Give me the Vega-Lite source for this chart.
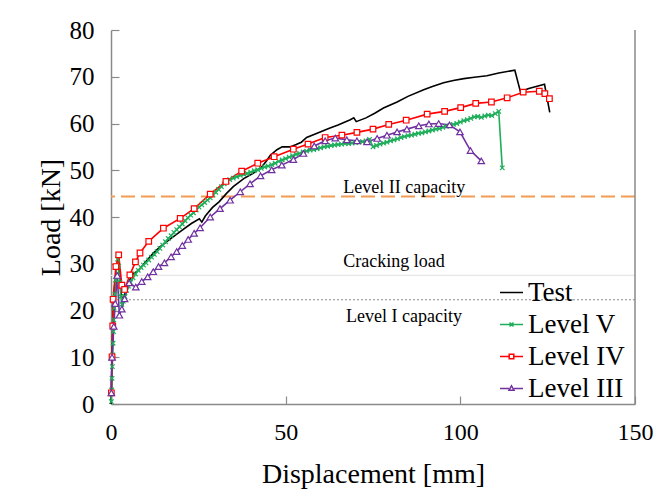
{
  "$schema": "https://vega.github.io/schema/vega-lite/v6.json",
  "width": 524,
  "height": 374,
  "autosize": "none",
  "padding": {"left": 111, "top": 30, "right": 23, "bottom": 89},
  "background": "white",
  "config": {
    "view": {"stroke": null},
    "font": "Liberation Serif",
    "scale": {"continuousPadding": 0},
    "axis": {
      "grid": false,
      "labelFlush": false,
      "labelOverlap": false,
      "domainColor": "#8a8a8a",
      "domainWidth": 1.5,
      "tickColor": "#8a8a8a",
      "tickWidth": 1.2,
      "tickSize": -8,
      "labelFont": "Liberation Serif",
      "labelColor": "black",
      "titleFont": "Liberation Serif",
      "titleColor": "black",
      "titleFontWeight": "normal"
    }
  },
  "datasets": {
    "curves": [
      {"s": "Test", "x": 0, "y": 0},
      {"s": "Test", "x": 0.3, "y": 10},
      {"s": "Test", "x": 0.6, "y": 20},
      {"s": "Test", "x": 1.0, "y": 25},
      {"s": "Test", "x": 1.5, "y": 28.5},
      {"s": "Test", "x": 2.0, "y": 30.5},
      {"s": "Test", "x": 2.5, "y": 27},
      {"s": "Test", "x": 3.0, "y": 23},
      {"s": "Test", "x": 3.6, "y": 22.5},
      {"s": "Test", "x": 4.5, "y": 25},
      {"s": "Test", "x": 6, "y": 27.6},
      {"s": "Test", "x": 8, "y": 28.7},
      {"s": "Test", "x": 10, "y": 30.5},
      {"s": "Test", "x": 12, "y": 32.2},
      {"s": "Test", "x": 14, "y": 33.6},
      {"s": "Test", "x": 17, "y": 35.3},
      {"s": "Test", "x": 20, "y": 37},
      {"s": "Test", "x": 23, "y": 38.6},
      {"s": "Test", "x": 25.3, "y": 39.6},
      {"s": "Test", "x": 26, "y": 38.9},
      {"s": "Test", "x": 27, "y": 40.2},
      {"s": "Test", "x": 29, "y": 42},
      {"s": "Test", "x": 31, "y": 43.3},
      {"s": "Test", "x": 33, "y": 45},
      {"s": "Test", "x": 35, "y": 46.5},
      {"s": "Test", "x": 38, "y": 48.2},
      {"s": "Test", "x": 40.8, "y": 49.4},
      {"s": "Test", "x": 43, "y": 50.6},
      {"s": "Test", "x": 44.5, "y": 52},
      {"s": "Test", "x": 45.6, "y": 53.2},
      {"s": "Test", "x": 47.5, "y": 54.4},
      {"s": "Test", "x": 49, "y": 55},
      {"s": "Test", "x": 51.3, "y": 55},
      {"s": "Test", "x": 53, "y": 55.5},
      {"s": "Test", "x": 54.5, "y": 56},
      {"s": "Test", "x": 56, "y": 57},
      {"s": "Test", "x": 59, "y": 57.9},
      {"s": "Test", "x": 62.5, "y": 59},
      {"s": "Test", "x": 65, "y": 59.7},
      {"s": "Test", "x": 68.5, "y": 60.8},
      {"s": "Test", "x": 69.5, "y": 61.2},
      {"s": "Test", "x": 70.2, "y": 60.4},
      {"s": "Test", "x": 73, "y": 61.2},
      {"s": "Test", "x": 75.5, "y": 62.2},
      {"s": "Test", "x": 78, "y": 63.3},
      {"s": "Test", "x": 81.9, "y": 64.6},
      {"s": "Test", "x": 85, "y": 65.8},
      {"s": "Test", "x": 89.5, "y": 67.2},
      {"s": "Test", "x": 92, "y": 67.9},
      {"s": "Test", "x": 95.2, "y": 68.7},
      {"s": "Test", "x": 98, "y": 69.2},
      {"s": "Test", "x": 101, "y": 69.6},
      {"s": "Test", "x": 104, "y": 69.9},
      {"s": "Test", "x": 107.6, "y": 70.2},
      {"s": "Test", "x": 111, "y": 70.8},
      {"s": "Test", "x": 115.6, "y": 71.4},
      {"s": "Test", "x": 117.2, "y": 66.8},
      {"s": "Test", "x": 119.6, "y": 67.5},
      {"s": "Test", "x": 124.1, "y": 68.4},
      {"s": "Test", "x": 125.6, "y": 62.4},

      {"s": "Level V", "x": 0.1, "y": 0.5},
      {"s": "Level V", "x": 0.2, "y": 3},
      {"s": "Level V", "x": 0.3, "y": 5.5},
      {"s": "Level V", "x": 0.4, "y": 8},
      {"s": "Level V", "x": 0.5, "y": 10.5},
      {"s": "Level V", "x": 0.6, "y": 13},
      {"s": "Level V", "x": 0.7, "y": 15.5},
      {"s": "Level V", "x": 0.8, "y": 18},
      {"s": "Level V", "x": 0.9, "y": 20.5},
      {"s": "Level V", "x": 1.1, "y": 23.5},
      {"s": "Level V", "x": 1.3, "y": 26.5},
      {"s": "Level V", "x": 1.6, "y": 29.5},
      {"s": "Level V", "x": 1.9, "y": 31},
      {"s": "Level V", "x": 2.2, "y": 29.5},
      {"s": "Level V", "x": 2.5, "y": 26},
      {"s": "Level V", "x": 2.8, "y": 23},
      {"s": "Level V", "x": 3.1, "y": 21.3},
      {"s": "Level V", "x": 3.5, "y": 22},
      {"s": "Level V", "x": 4.0, "y": 23},
      {"s": "Level V", "x": 4.5, "y": 24.3},
      {"s": "Level V", "x": 5.0, "y": 25.2},
      {"s": "Level V", "x": 5.6, "y": 26},
      {"s": "Level V", "x": 6.3, "y": 27},
      {"s": "Level V", "x": 7.0, "y": 27.8},
      {"s": "Level V", "x": 7.8, "y": 28.6},
      {"s": "Level V", "x": 8.6, "y": 29.2},
      {"s": "Level V", "x": 9.3, "y": 29.7},
      {"s": "Level V", "x": 10.0, "y": 30.2},
      {"s": "Level V", "x": 10.8, "y": 30.8},
      {"s": "Level V", "x": 11.6, "y": 31.4},
      {"s": "Level V", "x": 12.4, "y": 32},
      {"s": "Level V", "x": 13.2, "y": 32.6},
      {"s": "Level V", "x": 14, "y": 33.3},
      {"s": "Level V", "x": 14.8, "y": 34},
      {"s": "Level V", "x": 15.6, "y": 34.7},
      {"s": "Level V", "x": 16.4, "y": 35.4},
      {"s": "Level V", "x": 17.2, "y": 36},
      {"s": "Level V", "x": 18, "y": 36.7},
      {"s": "Level V", "x": 18.8, "y": 37.3},
      {"s": "Level V", "x": 19.6, "y": 37.9},
      {"s": "Level V", "x": 20.4, "y": 38.5},
      {"s": "Level V", "x": 21.2, "y": 39.2},
      {"s": "Level V", "x": 22, "y": 39.8},
      {"s": "Level V", "x": 22.8, "y": 40.4},
      {"s": "Level V", "x": 23.6, "y": 40.9},
      {"s": "Level V", "x": 24.4, "y": 41.5},
      {"s": "Level V", "x": 25.2, "y": 42.1},
      {"s": "Level V", "x": 26, "y": 42.6},
      {"s": "Level V", "x": 26.8, "y": 43.1},
      {"s": "Level V", "x": 27.6, "y": 43.6},
      {"s": "Level V", "x": 28.4, "y": 44.1},
      {"s": "Level V", "x": 29.2, "y": 44.7},
      {"s": "Level V", "x": 30, "y": 45.3},
      {"s": "Level V", "x": 30.8, "y": 45.9},
      {"s": "Level V", "x": 31.6, "y": 46.5},
      {"s": "Level V", "x": 32.4, "y": 47.1},
      {"s": "Level V", "x": 33.2, "y": 47.6},
      {"s": "Level V", "x": 34, "y": 48},
      {"s": "Level V", "x": 35, "y": 48.3},
      {"s": "Level V", "x": 36, "y": 48.6},
      {"s": "Level V", "x": 37, "y": 48.9},
      {"s": "Level V", "x": 38, "y": 49.1},
      {"s": "Level V", "x": 39, "y": 49.3},
      {"s": "Level V", "x": 40, "y": 49.6},
      {"s": "Level V", "x": 41, "y": 49.9},
      {"s": "Level V", "x": 42, "y": 50.1},
      {"s": "Level V", "x": 43, "y": 50.4},
      {"s": "Level V", "x": 44, "y": 50.7},
      {"s": "Level V", "x": 45, "y": 50.9},
      {"s": "Level V", "x": 46, "y": 51.2},
      {"s": "Level V", "x": 47, "y": 51.5},
      {"s": "Level V", "x": 48, "y": 51.9},
      {"s": "Level V", "x": 49, "y": 52.2},
      {"s": "Level V", "x": 50, "y": 52.5},
      {"s": "Level V", "x": 51, "y": 52.8},
      {"s": "Level V", "x": 52, "y": 53.1},
      {"s": "Level V", "x": 53, "y": 53.4},
      {"s": "Level V", "x": 54, "y": 53.6},
      {"s": "Level V", "x": 55, "y": 53.9},
      {"s": "Level V", "x": 56, "y": 54.1},
      {"s": "Level V", "x": 57, "y": 54.3},
      {"s": "Level V", "x": 58, "y": 54.4},
      {"s": "Level V", "x": 59, "y": 54.6},
      {"s": "Level V", "x": 60, "y": 54.8},
      {"s": "Level V", "x": 61, "y": 55},
      {"s": "Level V", "x": 62, "y": 55.1},
      {"s": "Level V", "x": 63, "y": 55.3},
      {"s": "Level V", "x": 64, "y": 55.4},
      {"s": "Level V", "x": 65, "y": 55.5},
      {"s": "Level V", "x": 66, "y": 55.6},
      {"s": "Level V", "x": 67, "y": 55.7},
      {"s": "Level V", "x": 68, "y": 55.7},
      {"s": "Level V", "x": 69, "y": 55.8},
      {"s": "Level V", "x": 70, "y": 55.9},
      {"s": "Level V", "x": 71, "y": 56},
      {"s": "Level V", "x": 72, "y": 56.1},
      {"s": "Level V", "x": 73, "y": 56.3},
      {"s": "Level V", "x": 74, "y": 56.6},
      {"s": "Level V", "x": 75, "y": 55},
      {"s": "Level V", "x": 76, "y": 55.3},
      {"s": "Level V", "x": 77, "y": 55.6},
      {"s": "Level V", "x": 78, "y": 55.8},
      {"s": "Level V", "x": 79, "y": 56},
      {"s": "Level V", "x": 80, "y": 56.3},
      {"s": "Level V", "x": 81, "y": 56.5},
      {"s": "Level V", "x": 82, "y": 56.7},
      {"s": "Level V", "x": 83, "y": 57},
      {"s": "Level V", "x": 84, "y": 57.2},
      {"s": "Level V", "x": 85, "y": 57.4},
      {"s": "Level V", "x": 86, "y": 57.5},
      {"s": "Level V", "x": 87, "y": 57.7},
      {"s": "Level V", "x": 88, "y": 57.9},
      {"s": "Level V", "x": 89, "y": 58},
      {"s": "Level V", "x": 90, "y": 58.2},
      {"s": "Level V", "x": 91, "y": 58.4},
      {"s": "Level V", "x": 92, "y": 58.6},
      {"s": "Level V", "x": 93, "y": 58.8},
      {"s": "Level V", "x": 94, "y": 58.9},
      {"s": "Level V", "x": 95, "y": 59.2},
      {"s": "Level V", "x": 96, "y": 59.4},
      {"s": "Level V", "x": 97, "y": 59.6},
      {"s": "Level V", "x": 98, "y": 59.8},
      {"s": "Level V", "x": 99, "y": 60},
      {"s": "Level V", "x": 100, "y": 60.3},
      {"s": "Level V", "x": 101, "y": 60.6},
      {"s": "Level V", "x": 102, "y": 60.8},
      {"s": "Level V", "x": 103, "y": 61.1},
      {"s": "Level V", "x": 104, "y": 61.4},
      {"s": "Level V", "x": 105, "y": 61.5},
      {"s": "Level V", "x": 106, "y": 61.3},
      {"s": "Level V", "x": 107, "y": 61.6},
      {"s": "Level V", "x": 108, "y": 61.8},
      {"s": "Level V", "x": 109, "y": 61.7},
      {"s": "Level V", "x": 110, "y": 62.1},
      {"s": "Level V", "x": 111, "y": 62.6},
      {"s": "Level V", "x": 112, "y": 50.5},

      {"s": "Level IV", "x": 0.1, "y": 2.4},
      {"s": "Level IV", "x": 0.3, "y": 10.1},
      {"s": "Level IV", "x": 0.5, "y": 16.7},
      {"s": "Level IV", "x": 0.6, "y": 22.4},
      {"s": "Level IV", "x": 1.4, "y": 29.4},
      {"s": "Level IV", "x": 2.2, "y": 31.9},
      {"s": "Level IV", "x": 3.1, "y": 25.4},
      {"s": "Level IV", "x": 3.9, "y": 24.5},
      {"s": "Level IV", "x": 5.4, "y": 27.6},
      {"s": "Level IV", "x": 7.0, "y": 30.4},
      {"s": "Level IV", "x": 8.3, "y": 32.3},
      {"s": "Level IV", "x": 10.8, "y": 34.8},
      {"s": "Level IV", "x": 15.0, "y": 37.6},
      {"s": "Level IV", "x": 19.8, "y": 39.7},
      {"s": "Level IV", "x": 23.8, "y": 41.8},
      {"s": "Level IV", "x": 28.4, "y": 44.9},
      {"s": "Level IV", "x": 32.9, "y": 47.6},
      {"s": "Level IV", "x": 37.4, "y": 49.8},
      {"s": "Level IV", "x": 42.0, "y": 51.5},
      {"s": "Level IV", "x": 46.7, "y": 52.9},
      {"s": "Level IV", "x": 52.2, "y": 54.5},
      {"s": "Level IV", "x": 56.4, "y": 55.6},
      {"s": "Level IV", "x": 61.3, "y": 57.0},
      {"s": "Level IV", "x": 66.1, "y": 57.5},
      {"s": "Level IV", "x": 70.4, "y": 58.1},
      {"s": "Level IV", "x": 75.0, "y": 58.8},
      {"s": "Level IV", "x": 79.5, "y": 59.8},
      {"s": "Level IV", "x": 84.5, "y": 60.7},
      {"s": "Level IV", "x": 90.5, "y": 62.0},
      {"s": "Level IV", "x": 95.5, "y": 62.6},
      {"s": "Level IV", "x": 100.1, "y": 63.4},
      {"s": "Level IV", "x": 104.4, "y": 64.3},
      {"s": "Level IV", "x": 108.9, "y": 64.6},
      {"s": "Level IV", "x": 113.4, "y": 65.5},
      {"s": "Level IV", "x": 118.0, "y": 66.7},
      {"s": "Level IV", "x": 122.6, "y": 66.9},
      {"s": "Level IV", "x": 124.2, "y": 66.4},
      {"s": "Level IV", "x": 125.5, "y": 65.3},

      {"s": "Level III", "x": 0.1, "y": 2.4},
      {"s": "Level III", "x": 0.3, "y": 10},
      {"s": "Level III", "x": 0.8, "y": 16.6},
      {"s": "Level III", "x": 1.2, "y": 21.5},
      {"s": "Level III", "x": 1.8, "y": 27.5},
      {"s": "Level III", "x": 2.4, "y": 19},
      {"s": "Level III", "x": 3.1, "y": 20.3},
      {"s": "Level III", "x": 3.9, "y": 22.5},
      {"s": "Level III", "x": 5.2, "y": 25.9},
      {"s": "Level III", "x": 7.1, "y": 25},
      {"s": "Level III", "x": 8.8, "y": 26.2},
      {"s": "Level III", "x": 10.5, "y": 27.2},
      {"s": "Level III", "x": 12.1, "y": 28.3},
      {"s": "Level III", "x": 13.6, "y": 29.4},
      {"s": "Level III", "x": 15.3, "y": 30.2},
      {"s": "Level III", "x": 17.2, "y": 31.5},
      {"s": "Level III", "x": 18.8, "y": 32.6},
      {"s": "Level III", "x": 20.4, "y": 33.9},
      {"s": "Level III", "x": 22.1, "y": 35.2},
      {"s": "Level III", "x": 23.8, "y": 36.5},
      {"s": "Level III", "x": 25.5, "y": 37.7},
      {"s": "Level III", "x": 28.4, "y": 40},
      {"s": "Level III", "x": 31.2, "y": 41.8},
      {"s": "Level III", "x": 34.1, "y": 43.6},
      {"s": "Level III", "x": 37, "y": 45.4},
      {"s": "Level III", "x": 39.8, "y": 47.1},
      {"s": "Level III", "x": 42.8, "y": 48.8},
      {"s": "Level III", "x": 46, "y": 50.1},
      {"s": "Level III", "x": 48.9, "y": 51.1},
      {"s": "Level III", "x": 52.2, "y": 52.3},
      {"s": "Level III", "x": 55.1, "y": 53.6},
      {"s": "Level III", "x": 58.2, "y": 55.2},
      {"s": "Level III", "x": 61.3, "y": 56.3},
      {"s": "Level III", "x": 64.2, "y": 56.9},
      {"s": "Level III", "x": 67.5, "y": 56.5},
      {"s": "Level III", "x": 70.4, "y": 56.3},
      {"s": "Level III", "x": 73.3, "y": 56.1},
      {"s": "Level III", "x": 76.2, "y": 56.8},
      {"s": "Level III", "x": 79, "y": 57.5},
      {"s": "Level III", "x": 81.9, "y": 58.2},
      {"s": "Level III", "x": 84.7, "y": 58.8},
      {"s": "Level III", "x": 88.1, "y": 59.5},
      {"s": "Level III", "x": 91, "y": 59.9},
      {"s": "Level III", "x": 93.8, "y": 60},
      {"s": "Level III", "x": 96.9, "y": 59.7},
      {"s": "Level III", "x": 99.9, "y": 58.2},
      {"s": "Level III", "x": 102.9, "y": 54.2},
      {"s": "Level III", "x": 106, "y": 52}
    ],
    "notes": [
      {"label": "Level II capacity", "x": 66.5, "y": 45.2},
      {"label": "Cracking load", "x": 66.5, "y": 29.4},
      {"label": "Level I capacity", "x": 67.3, "y": 17.6}
    ],
    "refs": [
      {"name": "Cracking load", "y": 27.5},
      {"name": "Level I capacity", "y": 22.3},
      {"name": "Level II capacity", "y": 44.4}
    ]
  },
  "encoding": {
    "x": {
      "type": "quantitative",
      "scale": {"domain": [0, 150], "nice": false, "zero": false, "padding": 0},
      "axis": {"values": [0, 50, 100, 150], "title": "Displacement [mm]", "labelFontSize": 24, "titleFontSize": 28, "labelPadding": 24, "titlePadding": 16}
    },
    "y": {
      "type": "quantitative",
      "scale": {"domain": [0, 80], "nice": false, "zero": false, "padding": 0},
      "axis": {"values": [0, 10, 20, 30, 40, 50, 60, 70, 80], "title": "Load [kN]", "labelFontSize": 25, "titleFontSize": 28, "labelPadding": 25, "titlePadding": 4}
    }
  },
  "layer": [
    {
      "data": {"name": "refs"},
      "transform": [{"filter": "datum.name === 'Cracking load'"}],
      "mark": {"type": "rule", "color": "#e6e6e6", "strokeWidth": 1.2},
      "encoding": {"y": {"field": "y"}}
    },
    {
      "data": {"name": "refs"},
      "transform": [{"filter": "datum.name === 'Level I capacity'"}],
      "mark": {"type": "rule", "color": "#8c8c8c", "strokeDash": [2, 2], "strokeWidth": 1.2},
      "encoding": {"y": {"field": "y"}}
    },
    {
      "data": {"name": "refs"},
      "transform": [{"filter": "datum.name === 'Level II capacity'"}],
      "mark": {"type": "rule", "color": "#F29B55", "strokeDash": [14, 6], "strokeWidth": 2},
      "encoding": {"y": {"field": "y"}}
    },
    {
      "data": {"name": "curves"},
      "mark": {"type": "line", "strokeWidth": 1.6},
      "encoding": {
        "x": {"field": "x"},
        "y": {"field": "y"},
        "color": {
          "field": "s", "type": "nominal",
          "scale": {"domain": ["Test", "Level V", "Level IV", "Level III"], "range": ["#000000", "#1EAE5A", "#FF0000", "#7030A0"]},
          "legend": {
            "title": null,
            "orient": "none",
            "legendX": 387,
            "legendY": 249,
            "labelFont": "Liberation Serif",
            "labelFontSize": 27,
            "labelColor": "black",
            "labelOffset": 3,
            "rowPadding": 4,
            "symbolSize": 529,
            "symbolStrokeWidth": 1.5,
            "encode": {
              "symbols": {
                "update": {
                  "shape": {"signal": "datum.value === 'Test' ? 'M-1,0H1' : datum.value === 'Level V' ? 'M-1,0H1M-0.17,-0.17L0.17,0.17M-0.17,0.17L0.17,-0.17' : datum.value === 'Level IV' ? 'M-1,0H-0.2M0.2,0H1M-0.2,-0.2H0.2V0.2H-0.2Z' : 'M-1,0H-0.22M0.22,0H1M0,-0.24L0.22,0.16H-0.22Z'"},
                  "fill": {"value": "white"},
                  "strokeWidth": {"value": 1.5}
                }
              }
            }
          }
        },
        "order": {"value": null}
      }
    },
    {
      "data": {"name": "curves"},
      "transform": [{"filter": "datum.s !== 'Test'"}],
      "mark": {"type": "point", "filled": false, "fill": "white", "fillOpacity": 1, "strokeWidth": 1.2, "opacity": 1},
      "encoding": {
        "x": {"field": "x"},
        "y": {"field": "y"},
        "color": {"field": "s", "type": "nominal", "legend": null},
        "shape": {
          "field": "s", "type": "nominal",
          "scale": {"domain": ["Level V", "Level IV", "Level III"], "range": ["M-1,-1L1,1M-1,1L1,-1", "square", "triangle-up"]},
          "legend": null
        },
        "size": {
          "field": "s", "type": "nominal",
          "scale": {"domain": ["Level V", "Level IV", "Level III"], "range": [20, 42, 40]},
          "legend": null
        }
      }
    },
    {
      "data": {"values": [{"edge": 150, "lo": 0, "hi": 80}]},
      "mark": {"type": "rule", "color": "#8a8a8a", "strokeWidth": 1.5},
      "encoding": {
        "x": {"field": "edge"},
        "y": {"field": "lo"},
        "y2": {"field": "hi"}
      }
    },
    {
      "data": {"name": "notes"},
      "mark": {"type": "text", "align": "left", "baseline": "alphabetic", "font": "Liberation Serif", "fontSize": 18, "color": "black"},
      "encoding": {
        "x": {"field": "x"},
        "y": {"field": "y"},
        "text": {"field": "label"}
      }
    }
  ]
}
